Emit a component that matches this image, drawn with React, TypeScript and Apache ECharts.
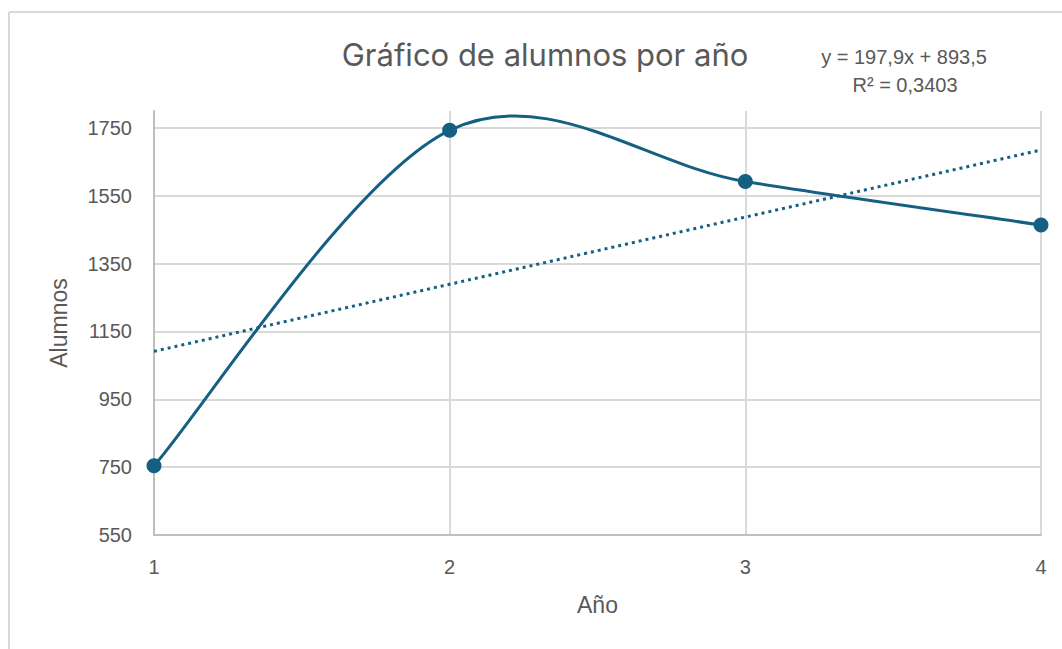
import React, { useEffect, useRef } from "react";
import * as echarts from "echarts";

// Años y número de alumnos
const years = [1, 2, 3, 4];
const students = [754, 1743, 1592, 1464];
const yTicks = [550, 750, 950, 1150, 1350, 1550, 1750];

const BLUE = "#156082";
const TEXT = "#595959";
const GRID = "#d9d9d9";

// Recta de regresión por mínimos cuadrados
function linearFit(xs: number[], ys: number[]) {
  const n = xs.length;
  const mx = xs.reduce((a, b) => a + b, 0) / n;
  const my = ys.reduce((a, b) => a + b, 0) / n;
  let sxy = 0;
  let sxx = 0;
  let syy = 0;
  for (let i = 0; i < n; i++) {
    sxy += (xs[i] - mx) * (ys[i] - my);
    sxx += (xs[i] - mx) ** 2;
    syy += (ys[i] - my) ** 2;
  }
  const slope = sxy / sxx;
  const intercept = my - slope * mx;
  const r2 = (sxy * sxy) / (sxx * syy);
  return { slope, intercept, r2 };
}

const fmt = (v: number, d: number) => v.toFixed(d).replace(".", ",");

// Curva suavizada tipo Catmull-Rom que pasa por los puntos (en píxeles)
function smoothPath(pts: number[][]) {
  const n = pts.length;
  let d = `M${pts[0][0]},${pts[0][1]}`;
  for (let i = 0; i < n - 1; i++) {
    const p0 = pts[Math.max(i - 1, 0)];
    const p1 = pts[i];
    const p2 = pts[i + 1];
    const p3 = pts[Math.min(i + 2, n - 1)];
    const c1x = p1[0] + (p2[0] - p0[0]) / 6;
    const c1y = p1[1] + (p2[1] - p0[1]) / 6;
    const c2x = p2[0] - (p3[0] - p1[0]) / 6;
    const c2y = p2[1] - (p3[1] - p1[1]) / 6;
    d += ` C${c1x},${c1y} ${c2x},${c2y} ${p2[0]},${p2[1]}`;
  }
  return d;
}

export default function App() {
  const ref = useRef<HTMLDivElement>(null);

  useEffect(() => {
    if (!ref.current) return;
    const chart = echarts.init(ref.current, null, { renderer: "svg" });
    const fit = linearFit(years, students);
    const x0 = years[0];
    const x1 = years[years.length - 1];
    const trend = [
      [x0, fit.slope * x0 + fit.intercept],
      [x1, fit.slope * x1 + fit.intercept],
    ];
    const points = years.map((x, i) => [x, students[i]]);
    const font = "'Liberation Sans', Arial, sans-serif";
    const lineColors = yTicks.map(() => GRID).concat(["transparent"]);

    chart.setOption({
      animation: false,
      backgroundColor: "#ffffff",
      textStyle: { fontFamily: font },
      title: {
        text: "Gráfico de alumnos por año",
        left: 540,
        textAlign: "center",
        top: 34,
        textStyle: {
          fontFamily: "Inter, 'Noto Sans', sans-serif",
          fontSize: 31,
          fontWeight: "normal",
          color: TEXT,
        },
      },
      grid: { left: 154, right: 21, top: 111, bottom: 114 },
      xAxis: {
        type: "value",
        min: 1,
        max: 4,
        interval: 1,
        name: "Año",
        nameLocation: "middle",
        nameGap: 58,
        nameTextStyle: { color: TEXT, fontSize: 23, fontFamily: font },
        axisLine: { show: true, lineStyle: { color: "#bfbfbf", width: 2 } },
        axisTick: { show: false },
        axisLabel: { color: TEXT, fontSize: 20, margin: 22, fontFamily: font },
        splitLine: { show: true, lineStyle: { color: GRID, width: 2 } },
      },
      yAxis: {
        type: "value",
        min: 550,
        max: 1800,
        interval: 200,
        name: "Alumnos",
        nameLocation: "middle",
        nameGap: 84,
        nameRotate: 90,
        nameTextStyle: { color: TEXT, fontSize: 23, fontFamily: font },
        axisLine: { show: true, lineStyle: { color: "#bfbfbf", width: 2 } },
        axisTick: { show: false },
        axisLabel: {
          color: TEXT,
          fontSize: 20,
          margin: 22,
          fontFamily: font,
          showMaxLabel: false,
          formatter: (v: number) => String(v),
        },
        splitLine: { show: true, lineStyle: { color: lineColors, width: 2 } },
      },
      graphic: [
        {
          type: "line",
          shape: { x1: 9, y1: 12, x2: 1062, y2: 12 },
          style: { stroke: GRID, lineWidth: 2 },
        },
        {
          type: "line",
          shape: { x1: 9, y1: 12, x2: 9, y2: 649 },
          style: { stroke: GRID, lineWidth: 2 },
        },
        {
          type: "text",
          x: 904,
          y: 57,
          style: {
            text: `y = ${fmt(fit.slope, 1)}x + ${fmt(fit.intercept, 1)}`,
            fill: TEXT,
            fontSize: 20,
            fontFamily: font,
            align: "center",
            verticalAlign: "middle",
          },
        },
        {
          type: "text",
          x: 905,
          y: 85,
          style: {
            text: `R² = ${fmt(fit.r2, 4)}`,
            fill: TEXT,
            fontSize: 20,
            fontFamily: font,
            align: "center",
            verticalAlign: "middle",
          },
        },
      ],
      series: [
        {
          name: "Curva",
          type: "custom",
          coordinateSystem: "cartesian2d",
          data: points,
          silent: true,
          z: 3,
          renderItem: (params: any, api: any) => {
            if (params.dataIndex !== 0) return null;
            const px = points.map((p) => api.coord(p));
            return {
              type: "path",
              shape: { pathData: smoothPath(px) },
              style: { fill: "none", stroke: BLUE, lineWidth: 3 },
            };
          },
        },
        {
          name: "Alumnos",
          type: "line",
          data: points,
          symbol: "circle",
          symbolSize: 15,
          lineStyle: { color: BLUE, width: 0, opacity: 0 },
          itemStyle: { color: BLUE },
          z: 4,
        },
        {
          name: "Tendencia",
          type: "line",
          data: trend,
          symbol: "none",
          lineStyle: { color: BLUE, width: 3, type: [3, 4] },
          z: 2,
        },
      ],
    });
    return () => chart.dispose();
  }, []);

  return (
    <div
      ref={ref}
      style={{ position: "fixed", left: 0, top: 0, width: 1062, height: 649 }}
    />
  );
}
